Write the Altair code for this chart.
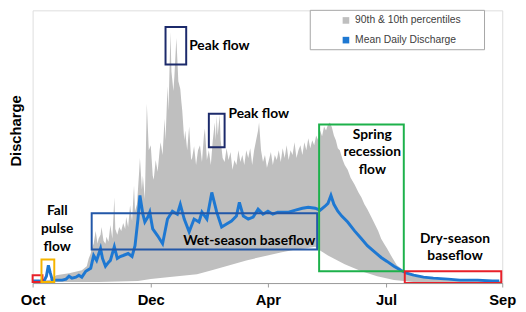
import altair as alt
import pandas as pd

# ---- data (x: position along the water year, y: discharge, arbitrary units)
upper_x = [0, 17, 24, 37, 50, 55, 57, 59, 60, 62, 64, 66, 67, 69, 70, 72, 74, 75, 77, 79, 81, 83,
           84, 86, 88, 90, 92, 94, 95, 97, 99, 101, 103, 104, 106, 108, 109, 111, 112, 114, 116,
           118, 120, 122, 123, 125, 127, 129, 130, 132, 134, 135, 137, 138, 140, 141, 143, 144,
           146, 148, 150, 151, 152, 154, 155, 157, 159, 161, 162, 164, 166, 168, 170, 172, 174,
           175, 177, 179, 181, 183, 185, 186, 187, 188, 190, 191, 193, 195, 197, 199, 201, 203,
           205, 207, 209, 211, 213, 215, 217, 219, 221, 223, 225, 227, 229, 230, 232, 234, 236,
           238, 240, 242, 244, 246, 248, 250, 252, 254, 256, 258, 260, 262, 264, 266, 268, 270,
           272, 274, 276, 278, 280, 282, 284, 286, 288, 290, 292, 294, 296, 298, 300, 302, 304,
           306, 308, 310, 312, 315, 317, 320, 323, 327, 331, 334, 337, 340, 344, 347, 351, 354,
           357, 360, 364, 367, 370, 374, 377, 382, 387, 394, 407, 417, 447, 477]
upper_y = [2, 3, 8, 10, 13, 17, 25, 30, 35, 40, 53, 40, 45, 49, 57, 43, 40, 47, 42, 59, 45, 87,
           55, 49, 57, 53, 61, 55, 67, 57, 79, 63, 99, 73, 80, 110, 127, 95, 109, 85, 182,
           135, 140, 109, 105, 125, 113, 135, 143, 130, 167, 145, 200, 175, 255, 215, 195, 210,
           249, 205, 197, 185, 175, 145, 155, 135, 159, 125, 127, 139, 120, 135, 140, 123, 150,
           157, 125, 135, 120, 145, 163, 145, 170, 150, 171, 145, 127, 123, 137, 125, 133, 115,
           125, 120, 135, 123, 130, 120, 135, 127, 137, 120, 135, 145, 155, 163, 135, 123, 130,
           117, 125, 133, 120, 130, 125, 135, 123, 137, 127, 140, 125, 135, 130, 143, 127, 135,
           140, 130, 143, 135, 147, 137, 145, 140, 150, 145, 155, 149, 159, 155, 161, 163, 158,
           150, 145, 137, 135, 125, 120, 115, 107, 100, 92, 87, 80, 75, 67, 61, 53, 45,
           40, 35, 28, 23, 18, 15, 12, 9, 7, 6, 4, 3, 2, 2]

lower_x = [0, 67, 107, 120, 137, 167, 182, 200, 217, 234, 252, 267, 277, 287, 292, 300, 317,
           334, 350, 367, 387, 477]
lower_y = [1, 1, 2, 4, 6, 9, 13, 18, 23, 27, 31, 34, 35, 37, 33, 28, 19, 12, 7, 3, 1, 1]

mean_x = [0, 7, 12, 14, 16, 18, 20, 24, 30, 34, 37, 40, 44, 47, 50, 54, 59, 62, 65, 69, 71, 74,
          77, 79, 83, 86, 89, 92, 97, 101, 104, 107, 109, 112, 114, 117, 119, 122, 127, 132, 137,
          142, 147, 150, 154, 159, 164, 169, 172, 177, 182, 187, 192, 197, 202, 207, 210, 214,
          219, 224, 229, 234, 239, 244, 249, 254, 260, 267, 274, 280, 287, 292, 297, 300, 303,
          306, 310, 314, 320, 327, 334, 340, 347, 354, 360, 367, 374, 380, 387, 397, 407, 422,
          434, 452, 467, 474]
mean_y = [2, 2, 3, 7, 18, 10, 3, 3, 3, 4, 7, 5, 6, 8, 6, 12, 15, 28, 23, 35, 25, 17,
          21, 23, 37, 25, 27, 28, 30, 27, 38, 65, 89, 70, 62, 67, 72, 55, 48, 40, 65,
          73, 70, 80, 65, 52, 65, 62, 72, 65, 92, 72, 57, 60, 63, 68, 82, 68,
          65, 67, 75, 70, 73, 70, 72, 72, 72, 74, 76, 77, 76, 74, 78, 81, 89,
          80, 73, 68, 62, 53, 45, 38, 32, 26, 22, 17, 13, 10, 8, 6, 5, 4,
          3, 3, 2, 2]

tick_values = [0, 120, 239, 359, 477]
tick_labels = ["Oct", "Dec", "Apr", "Jul", "Sep"]

series_names = ["90th & 10th percentiles", "Mean Daily Discharge"]
series_colors = ["#bfbfbf", "#1e78d2"]

# annotation boxes (in data units)
box_x = [0, 9, 135, 179, 60, 291, 378]
box_x2 = [10, 22, 156, 195, 289, 377, 476]
box_y = [1, 1, 222, 138, 34, 12, 0]
box_y2 = [8, 24, 260, 172, 71, 161, 12]
box_col = ["#e8202a", "#f5b400", "#1c2a6b", "#1c2a6b", "#2257a8", "#1db14b", "#e8202a"]

# annotation texts
left_text = ["Peak flow", "Peak flow"]
left_x = [159, 199]
left_y = [241, 172]
right_text = ["Wet-season baseflow"]
right_x = [287]
right_y = [43]
center_text = ["Fall", "pulse", "flow", "Spring", "recession", "flow", "Dry-season", "baseflow"]
center_x = [25, 25, 25, 345, 345, 345, 429, 429]
center_y = [73, 55, 37, 150, 133, 115, 45, 27]

# ---- build tables
up = pd.DataFrame({"x": upper_x, "y": upper_y, "series": series_names[0]})
lo = pd.DataFrame({"x": lower_x, "y": lower_y})
mn = pd.DataFrame({"x": mean_x, "y": mean_y, "series": series_names[1]})
boxes = pd.DataFrame({"x": box_x, "x2": box_x2, "y": box_y, "y2": box_y2, "c": box_col})
lt = pd.DataFrame({"x": left_x, "y": left_y, "t": left_text})
rt = pd.DataFrame({"x": right_x, "y": right_y, "t": right_text})
ct = pd.DataFrame({"x": center_x, "y": center_y, "t": center_text})

label_expr = " : ".join(
    [f"datum.value == {v} ? '{l}'" for v, l in zip(tick_values, tick_labels)]
) + " : ''"

xscale = alt.Scale(domain=[0, 477], nice=False, zero=False)
yscale = alt.Scale(domain=[0, 277], nice=False)

xaxis = alt.Axis(values=tick_values, labelExpr=label_expr, title=None, grid=False,
                 labelFont="Liberation Sans", labelFontSize=15, labelFontWeight="bold",
                 labelColor="#000000", labelPadding=6, tickSize=4, tickColor="#9a9a9a",
                 domainColor="#9a9a9a", labelFlush=False, labelBound=False,
                 labelOverlap=False, zindex=1)
yaxis = alt.Axis(title="Discharge", labels=False, ticks=False, grid=False, domain=False,
                 titleFont="Liberation Sans", titleFontSize=15, titleFontWeight="bold",
                 titleColor="#000000", titleX=-12, titleY=122, titleAlign="center",
                 titleBaseline="alphabetic", titleAngle=270)

color = alt.Color("series:N",
                  scale=alt.Scale(domain=series_names, range=series_colors),
                  legend=alt.Legend(title=None, orient="none", legendX=313, legendY=5,
                                    symbolType="square", symbolSize=45, symbolStrokeWidth=0,
                                    labelFont="Liberation Sans", labelFontSize=10.5,
                                    labelColor="#404040", rowPadding=9, padding=0,
                                    labelOffset=4))

band = alt.Chart(up).mark_area(color="#bfbfbf", interpolate="linear").encode(
    x=alt.X("x:Q", scale=xscale, axis=xaxis),
    y=alt.Y("y:Q", scale=yscale, axis=yaxis),
    color=color,
)
cut = alt.Chart(lo).mark_area(color="white").encode(
    x=alt.X("x:Q", scale=xscale),
    y=alt.Y("y:Q", scale=yscale),
)
line = alt.Chart(mn).mark_line(strokeWidth=3).encode(
    x=alt.X("x:Q", scale=xscale),
    y=alt.Y("y:Q", scale=yscale),
    color=color,
)
rects = alt.Chart(boxes).mark_rect(filled=False, strokeWidth=2).encode(
    x="x:Q", x2="x2:Q", y="y:Q", y2="y2:Q",
    stroke=alt.Stroke("c:N", scale=None),
)

def txt(df, align):
    return alt.Chart(df).mark_text(align=align, baseline="middle", font="Lato",
                                   fontWeight="bold", fontSize=14, color="#000000").encode(
        x="x:Q", y="y:Q", text="t:N")

legend_box = alt.Chart(pd.DataFrame({"a": [0]})).mark_rect(
    fill="white", stroke="#a6a6a6", strokeWidth=1).encode(
    x=alt.value(282), x2=alt.value(459), y=alt.value(0), y2=alt.value(40))

chart = alt.layer(band, cut, line, rects, txt(lt, "left"), txt(rt, "right"),
                  txt(ct, "center"), legend_box).properties(
    width=477, height=277,
    autosize=alt.AutoSizeParams(type="none"),
    padding={"left": 25, "top": 0, "right": 16, "bottom": 26},
).configure_view(stroke="#c8c8c8", strokeWidth=1).configure(background="white")

chart.save("out.html", embed_options={"renderer": "svg", "actions": False})
